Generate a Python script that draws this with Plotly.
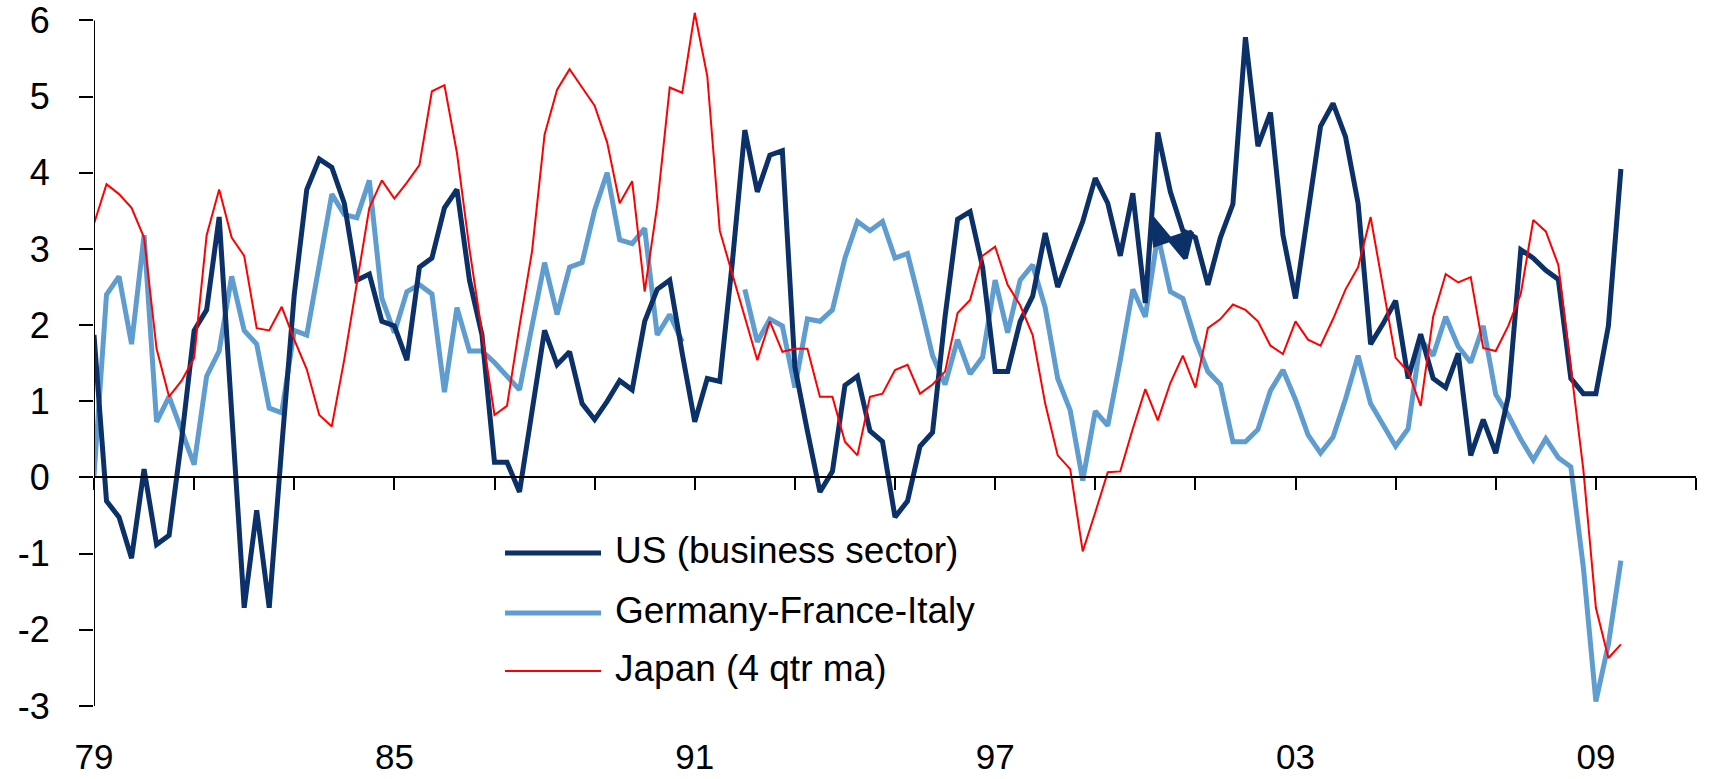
import plotly.graph_objects as go

# ---------------- data (quarterly, 1979Q1 .. 2009Q3) ----------------
start_year = 1979
n_quarters = 123

us_vals = [
    1.87, -0.31, -0.52, -1.06, 0.11, -0.88, -0.76, 0.50,
    1.93, 2.20, 3.42, 0.85, -1.71, -0.43, -1.71, 0.40,
    2.40, 3.78, 4.18, 4.07, 3.60, 2.59, 2.67, 2.05,
    1.99, 1.54, 2.76, 2.88, 3.54, 3.78, 2.59, 1.87,
    0.20, 0.20, -0.19, 0.87, 1.93, 1.48, 1.65, 0.97,
    0.76, 1.00, 1.27, 1.15, 2.05, 2.47, 2.59, 1.63,
    0.73, 1.30, 1.26, 2.82, 4.56, 3.75, 4.23, 4.29,
    1.45, 0.61, -0.19, 0.08, 1.21, 1.33, 0.61, 0.47,
    -0.52, -0.31, 0.41, 0.59, 2.11, 3.39, 3.49, 2.76,
    1.39, 1.39, 2.05, 2.38, 3.21, 2.50, 2.94, 3.36,
    3.93, 3.60, 2.91, 3.73, 2.29, 4.53, 3.75, 3.24,
    3.15, 2.53, 3.15, 3.59, 5.78, 4.35, 4.79, 3.18,
    2.35, 3.48, 4.61, 4.91, 4.47, 3.60, 1.75, 2.02,
    2.32, 1.30, 1.88, 1.30, 1.18, 1.63, 0.29, 0.76,
    0.32, 1.06, 2.99, 2.88, 2.72, 2.60, 1.30, 1.10,
    1.10, 1.99, 4.05,
]

# out-of-order US observations around 2000 (they draw a small loop)
us_extra_q = [84.5, 87.2, 87.7, 84.8, 84.5]
us_extra_vals = [3.41, 2.88, 3.22, 3.06, 3.41]

gfi_vals = [
    0.02, 2.40, 2.64, 1.75, 3.18, 0.73, 1.06, 0.61,
    0.17, 1.33, 1.66, 2.64, 1.93, 1.75, 0.91, 0.85,
    1.93, 1.87, 2.80, 3.72, 3.45, 3.41, 3.90, 2.35,
    1.90, 2.44, 2.53, 2.41, 1.12, 2.23, 1.66, 1.66,
    1.51, 1.33, 1.15, 1.99, 2.82, 2.14, 2.76, 2.82,
    3.51, 4.00, 3.12, 3.07, 3.27, 1.87, 2.14, 1.78,
    None, None, None, None, 2.47, 1.78, 2.08, 1.99,
    1.18, 2.08, 2.05, 2.20, 2.88, 3.36, 3.24, 3.36,
    2.88, 2.94, 2.29, 1.60, 1.22, 1.81, 1.36, 1.58,
    2.59, 1.90, 2.59, 2.79, 2.23, 1.30, 0.88, -0.04,
    0.87, 0.68, 1.54, 2.47, 2.11, 3.18, 2.44, 2.35,
    1.81, 1.39, 1.22, 0.47, 0.47, 0.63, 1.14, 1.41,
    1.02, 0.56, 0.32, 0.53, 1.03, 1.60, 0.97, 0.70,
    0.41, 0.64, 1.81, 1.60, 2.11, 1.72, 1.51, 1.99,
    1.09, 0.82, 0.50, 0.23, 0.51, 0.26, 0.14, -1.18,
    -2.94, -2.19, -1.09,
]

japan_vals = [
    3.33, 3.85, 3.72, 3.54, 3.15, 1.69, 1.06, 1.27,
    1.57, 3.18, 3.78, 3.15, 2.91, 1.96, 1.93, 2.24,
    1.81, 1.42, 0.82, 0.67, 1.55, 2.55, 3.54, 3.90,
    3.66, 3.87, 4.10, 5.07, 5.15, 4.26, 3.00, 1.90,
    0.82, 0.94, 1.99, 2.97, 4.50, 5.09, 5.36, 5.12,
    4.88, 4.40, 3.60, 3.89, 2.44, 3.57, 5.12, 5.05,
    6.10, 5.27, 3.24, 2.67, 2.11, 1.54, 2.05, 1.65,
    1.69, 1.69, 1.06, 1.06, 0.47, 0.29, 1.06, 1.10,
    1.41, 1.48, 1.10, 1.22, 1.39, 2.16, 2.33, 2.91,
    3.03, 2.53, 2.26, 1.87, 0.97, 0.29, 0.11, -0.97,
    -0.46, 0.07, 0.08, 0.64, 1.16, 0.75, 1.24, 1.60,
    1.18, 1.96, 2.08, 2.27, 2.20, 2.05, 1.73, 1.62,
    2.05, 1.81, 1.73, 2.08, 2.47, 2.76, 3.42, 2.47,
    1.57, 1.39, 0.94, 2.11, 2.67, 2.56, 2.63, 1.70,
    1.66, 1.99, 2.41, 3.38, 3.23, 2.79, 1.45, 0.10,
    -1.71, -2.37, -2.19,
]

series_names = ["US (business sector)", "Germany-France-Italy", "Japan (4 qtr ma)"]
series_colors = ["#0C3068", "#5F9DD1", "#FF0000"]
series_widths = [5, 5, 2]

x_tick_years = list(range(1979, 2012, 2))
x_tick_labels = ["79", "", "", "85", "", "", "91", "", "", "97", "", "", "03", "", "", "09", ""]
y_tick_vals = list(range(-3, 7))
y_tick_labels = ["-3", "-2", "-1", "0", "1", "2", "3", "4", "5", "6"]

# ---------------- build ----------------
def qx(q):
    return start_year + q / 4.0

x = [qx(q) for q in range(n_quarters)]

FONT = "Liberation Sans, Arial, sans-serif"
W, H = 1730, 779
ml, mr, mt, mb = 94, 34, 9, 73

xr = [1979, 2011]
yr = [-3, 6.15]          # a little headroom so the 6.1 peak is not clipped
y_axis_top = 6

fig = go.Figure()
fig.add_trace(go.Scatter(x=x, y=gfi_vals, mode="lines", name=series_names[1],
                         line=dict(color=series_colors[1], width=series_widths[1]),
                         connectgaps=False, showlegend=False))
fig.add_trace(go.Scatter(x=x, y=us_vals, mode="lines", name=series_names[0],
                         line=dict(color=series_colors[0], width=series_widths[0]),
                         showlegend=False))
fig.add_trace(go.Scatter(x=[qx(q) for q in us_extra_q], y=us_extra_vals, mode="lines",
                         name=series_names[0], fill="toself", fillcolor=series_colors[0],
                         line=dict(color=series_colors[0], width=series_widths[0]),
                         showlegend=False, hoverinfo="skip"))
fig.add_trace(go.Scatter(x=x, y=japan_vals, mode="lines", name=series_names[2],
                         line=dict(color=series_colors[2], width=series_widths[2]),
                         xaxis="x2", showlegend=False))

fig.update_layout(
    width=W, height=H,
    margin=dict(l=ml, r=mr, t=mt, b=mb, pad=0, autoexpand=False),
    paper_bgcolor="white", plot_bgcolor="white",
    font=dict(family=FONT, size=36, color="black"),
    xaxis=dict(range=xr, showline=False, showgrid=False, zeroline=False,
               automargin=False,
               tickmode="array", tickvals=x_tick_years, ticktext=x_tick_labels,
               ticks="", ticklabelstandoff=27,
               tickfont=dict(family=FONT, size=35, color="black")),
    xaxis2=dict(range=xr, overlaying="x", anchor="free",
                position=(0 - yr[0]) / (yr[1] - yr[0]),
                side="bottom", showline=True, linecolor="black", linewidth=2,
                showgrid=False, zeroline=False, automargin=False,
                tickmode="array", tickvals=x_tick_years, ticks="outside",
                ticklen=12, tickwidth=2, tickcolor="black", showticklabels=False),
    yaxis=dict(range=yr, showline=False, showgrid=False, zeroline=False,
               automargin=False,
               tickmode="array", tickvals=y_tick_vals, ticktext=y_tick_labels,
               ticks="outside", ticklen=14, tickwidth=2, tickcolor="black",
               ticklabelstandoff=22,
               tickfont=dict(family=FONT, size=36, color="black")),
    showlegend=False,
)

# y axis line from -3 to 6 only
fig.add_shape(type="line", xref="x", yref="y", x0=xr[0], x1=xr[0], y0=yr[0], y1=y_axis_top,
              line=dict(color="black", width=2))

# manual legend with long line samples (positions in pixels -> paper)
pw = W - ml - mr
ph = H - mt - mb
def px(v):
    return (v - ml) / pw
def py(v):
    return (H - mb - v) / ph

legend_rows = [553, 613, 671]
for name, color, width, row in zip(series_names, series_colors, series_widths, legend_rows):
    fig.add_shape(type="line", xref="paper", yref="paper",
                  x0=px(505), x1=px(601), y0=py(row), y1=py(row),
                  line=dict(color=color, width=width))
    fig.add_annotation(xref="paper", yref="paper", x=px(613), y=py(row - 3),
                       text=name, showarrow=False, xanchor="left", yanchor="middle",
                       font=dict(family=FONT, size=37, color="black"))

fig.write_html("out.html", config={"displayModeBar": False},
               post_script="document.body.style.margin='0';")
